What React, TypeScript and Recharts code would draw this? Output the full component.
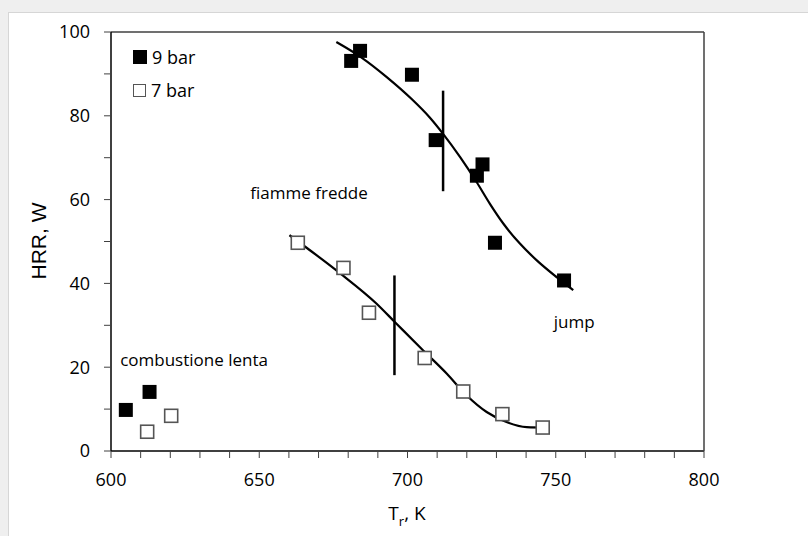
import React from "react";
import {
  ComposedChart,
  XAxis,
  YAxis,
  Scatter,
  Line,
  ReferenceLine,
  ReferenceDot,
} from "recharts";

// measured points, 9 bar (filled) and 7 bar (open)
const t9 = [605, 613, 681, 684, 701.5, 709.5, 723.4, 725.3, 729.5, 752.8];
const hrr9 = [9.8, 14.1, 93.1, 95.5, 89.8, 74.2, 65.7, 68.4, 49.7, 40.7];
const t7 = [612.2, 620.3, 663, 678.4, 687, 705.8, 718.8, 732, 745.6];
const hrr7 = [4.6, 8.4, 49.7, 43.7, 33.0, 22.2, 14.2, 8.8, 5.6];

// fitted curves
const fitT9 = [676.0, 684.5, 692.9, 701.4, 707.5, 712.0, 717.7, 723.3, 727.8, 732.3, 737.9, 743.6, 750.3, 755.9];
const fitH9 = [97.6, 93.9, 89.3, 84.0, 79.6, 75.7, 70.2, 64.2, 59.0, 54.3, 49.5, 45.5, 41.5, 38.4];
const fitT7 = [660.2, 677.1, 689.5, 695.7, 705.3, 713.2, 719.9, 726.7, 733.4, 740.2, 747.0];
const fitH7 = [51.5, 42.5, 35.2, 30.8, 24.0, 18.5, 13.3, 9.3, 6.9, 5.7, 5.6];

// transition markers: [T, low, high]
const mark9 = [712.0, 62.0, 86.0];
const mark7 = [695.6, 18.1, 41.9];

const xTicks = [600, 610, 620, 630, 640, 650, 660, 670, 680, 690, 700, 710, 720, 730, 740, 750, 760, 770, 780, 790, 800];
const yTicks = [0, 10, 20, 30, 40, 50, 60, 70, 80, 90, 100];

const zip = (xs: number[], ys: number[]) => xs.map((x, i) => ({ x, y: ys[i] }));

const FONT = "'Open Sans', sans-serif";

const FilledSquare = (props: any) => (
  <rect x={props.cx - 7} y={props.cy - 7} width={14} height={14} fill="#000" />
);

const OpenSquare = (props: any) => (
  <rect x={props.cx - 6.5} y={props.cy - 6.5} width={13} height={13} fill="#fff" stroke="#555" strokeWidth={1.6} />
);

const LegendBox = () => (
  <div style={{ position: "absolute", left: 133, top: 47, fontFamily: FONT, fontSize: 18, color: "#000", lineHeight: "20px" }}>
    <div style={{ display: "flex", alignItems: "center", height: 20 }}>
      <span style={{ width: 14, height: 14, background: "#000", display: "inline-block", marginRight: 5 }} />
      9 bar
    </div>
    <div style={{ display: "flex", alignItems: "center", height: 20, marginTop: 13 }}>
      <span style={{ width: 11, height: 11, border: "1.5px solid #555", background: "#fff", display: "inline-block", marginRight: 5 }} />
      7 bar
    </div>
  </div>
);

const YTitle = () => (
  <text x={38} y={241} transform="rotate(-90 38 241)" textAnchor="middle" dominantBaseline="central"
    fontFamily="'Liberation Sans', Arial, sans-serif" fontSize={21} fill="#000">
    HRR, W
  </text>
);

const XTitle = () => (
  <text x={407} y={520} textAnchor="middle" fontFamily={FONT} fontSize={19} fill="#000">
    T<tspan fontSize={13} dy={6}>r</tspan><tspan dy={-6}>, K</tspan>
  </text>
);

const note = (value: string) => ({ value, position: "center" as const, fill: "#000", fontSize: 17, fontFamily: FONT });

export default function App() {
  return (
    <div style={{ position: "relative", width: 808, height: 536, overflow: "hidden" }}>
      <style>{`html,body{margin:0;background:#efefef}`}</style>
      <div style={{ position: "absolute", left: 8, top: 12, width: 900, height: 600, background: "#fff", border: "1px solid #d6d6d6" }} />
      <div style={{ position: "absolute", left: 0, top: 0 }}>
        <ComposedChart width={808} height={536} margin={{ top: 32, right: 104, bottom: 0, left: 0 }}>
          <XAxis
            type="number"
            dataKey="x"
            domain={[600, 800]}
            ticks={xTicks}
            interval={0}
            tickFormatter={(v: number) => (v % 50 === 0 ? String(v) : "")}
            tickSize={7}
            tickMargin={15}
            height={85}
            axisLine={{ stroke: "#404040", strokeWidth: 2 }}
            tickLine={{ stroke: "#404040" }}
            tick={{ fill: "#000", fontSize: 18, fontFamily: FONT }}
            allowDataOverflow
          />
          <YAxis
            type="number"
            dataKey="y"
            domain={[0, 100]}
            ticks={yTicks}
            interval={0}
            tickFormatter={(v: number) => (v % 20 === 0 ? String(v) : "")}
            tickSize={7}
            tickMargin={14}
            width={111}
            axisLine={{ stroke: "#000", strokeWidth: 1.5 }}
            tickLine={{ stroke: "#404040" }}
            tick={{ fill: "#000", fontSize: 18, fontFamily: FONT }}
            allowDataOverflow
          />
          <ReferenceLine y={100} stroke="#404040" strokeWidth={1.5} />
          <ReferenceLine x={800} stroke="#404040" strokeWidth={1.5} />

          <Line data={zip(fitT9, fitH9)} dataKey="y" type="monotone" stroke="#000" strokeWidth={2.2}
            dot={false} activeDot={false} isAnimationActive={false} legendType="none" />
          <Line data={zip(fitT7, fitH7)} dataKey="y" type="monotone" stroke="#000" strokeWidth={2.2}
            dot={false} activeDot={false} isAnimationActive={false} legendType="none" />

          <ReferenceLine segment={[{ x: mark9[0], y: mark9[1] }, { x: mark9[0], y: mark9[2] }]} stroke="#000" strokeWidth={2.5} />
          <ReferenceLine segment={[{ x: mark7[0], y: mark7[1] }, { x: mark7[0], y: mark7[2] }]} stroke="#000" strokeWidth={2.5} />

          <Scatter name="9 bar" data={zip(t9, hrr9)} dataKey="y" shape={FilledSquare} isAnimationActive={false} />
          <Scatter name="7 bar" data={zip(t7, hrr7)} dataKey="y" shape={OpenSquare} isAnimationActive={false} />

          <ReferenceDot x={666.8} y={61.7} r={0} stroke="none" label={note("fiamme fredde")} />
          <ReferenceDot x={628.0} y={21.8} r={0} stroke="none" label={note("combustione lenta")} />
          <ReferenceDot x={756.2} y={30.7} r={0} stroke="none" label={note("jump")} />

          <YTitle />
          <XTitle />
        </ComposedChart>
      </div>
      <LegendBox />
    </div>
  );
}
